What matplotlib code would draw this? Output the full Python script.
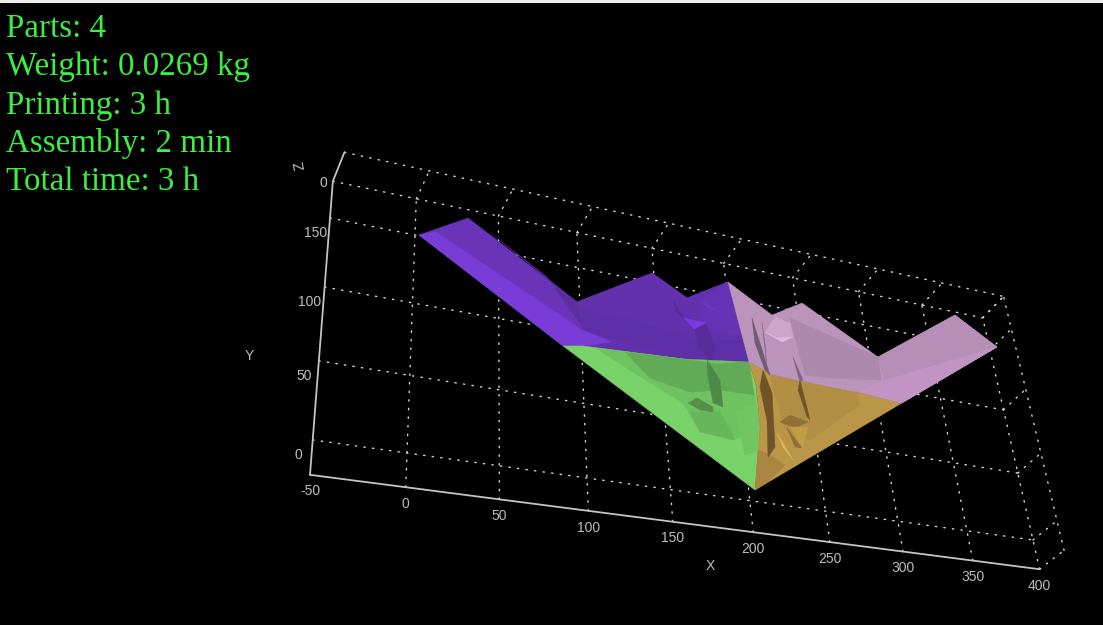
import numpy as np, matplotlib
matplotlib.use('Agg')
import matplotlib.pyplot as plt

# ---- summary text ----
summary_lines = ["Parts: 4", "Weight: 0.0269 kg", "Printing: 3 h", "Assembly: 2 min", "Total time: 3 h"]

# ---- axes ----
x_ticks = [-50, 0, 50, 100, 150, 200, 250, 300, 350, 400]
y_ticks = [0, 50, 100, 150]
z_ticks = [0]
x_lim = (-48.5, 400)
y_lim = (-21, 178)
z_lim = (0, 40)

# ---- surface facets, (x, y) on the model plane z = 0 ----
purple_body = [(2.3,150.6),(31.3,171.4),(98.3,123.1),(148.8,157.6),(171.4,143.0),(201.6,163.0),(210.1,101.4),(187.7,95.4),(165.0,94.6),(130.5,92.7),(100.9,91.0),(88.5,88.4)]
purple_centre = [(98.3,123.1),(148.8,157.6),(171.4,143.0),(201.6,163.0),(210.1,101.4),(165.0,94.6),(100.9,91.0)]
purple_edge = [(2.3,150.6),(12.2,155.5),(100.7,102.7),(119.3,97.8),(100.9,91.0),(88.5,88.4)]
purple_rear = [(44.8,163.2),(98.3,123.1),(101.4,105.0),(79.8,137.9)]
purple_band = [(100.6,117.6),(102.6,103.1),(163.1,94.9),(210.1,101.4),(209.1,118.2),(177.7,111.6),(138.3,116.9)]
purple_root = [(180.3,143.4),(201.6,163.0),(209.5,122.2),(178.3,119.4)]
purple_bump = [(168.1,126.5),(183.0,125.9),(174.3,119.3)]
purple_crease = [(161.6,139.2),(163.6,129.4),(170.6,124.0),(168.1,126.5)]
purple_shade = [(183.0,125.9),(187.5,108.3),(185.1,96.4),(177.0,103.8),(174.3,119.3)]
purple_glint = [(182.3,142.3),(191.6,138.0),(185.4,138.2)]

green_body = [(88.5,88.4),(100.9,91.0),(130.5,92.7),(165.0,94.6),(187.7,95.4),(210.1,101.4),(213.1,84.6),(212.5,53.4),(204.2,7.8)]
green_mid = [(108.4,91.1),(165.0,94.6),(210.1,101.4),(212.5,53.4),(193.2,40.8),(171.9,42.9),(162.5,61.8),(142.1,72.4)]
green_dark = [(127.3,92.0),(165.0,94.6),(187.7,95.4),(210.1,101.4),(210.9,76.7),(188.0,76.0),(167.7,70.7),(142.3,76.0)]
green_patch_a = [(166.6,56.1),(186.5,59.7),(194.5,41.1),(171.9,42.9)]
green_patch_b = [(196.7,63.0),(212.2,69.5),(209.9,36.5),(200.1,31.4)]
green_streak = [(181.2,97.1),(188.6,83.6),(188.8,63.7),(182.4,65.5),(180.7,84.3)]
green_blob = [(165.8,62.4),(172.0,67.2),(182.1,62.5),(181.8,58.8),(173.3,58.7)]

orange_body = [(210.1,101.4),(226.0,94.6),(249.8,93.9),(285.8,93.0),(318.8,90.6),(204.2,7.8),(212.5,53.4),(213.1,84.6)]
orange_upper = [(223.8,94.2),(249.8,93.9),(285.8,93.0),(286.4,83.1),(246.1,49.8),(229.5,54.2)]
orange_nose = [(209.3,36.4),(217.0,34.2),(226.4,28.6),(215.0,16.3),(204.2,7.8)]
orange_streak_a = [(219.3,97.1),(223.7,80.6),(221.1,40.5),(215.5,32.5),(217.8,59.5),(215.7,83.6)]
orange_streak_b = [(244.9,94.5),(248.1,64.9),(246.3,66.8),(242.5,86.4)]
orange_blob = [(226.7,59.6),(234.4,66.1),(246.5,63.1),(236.7,56.9)]
orange_glint = [(223.7,51.0),(232.3,33.1),(226.6,41.4)]
orange_facet_dark = [(231.1,56.0),(239.7,42.9),(234.9,42.8)]
orange_facet_light = [(233.3,57.1),(246.0,59.3),(240.4,43.0)]

pink_body = [(201.6,163.0),(230.8,142.8),(254.5,158.0),(306.5,124.9),(376.4,175.2),(406.7,153.9),(318.8,90.6),(285.8,93.0),(249.8,93.9),(226.0,94.6),(210.1,101.4)]
pink_inner = [(243.8,143.3),(306.5,124.9),(305.7,106.3),(267.2,100.4),(249.1,99.2)]
pink_outer = [(306.5,124.9),(376.4,175.2),(406.7,153.9),(308.8,106.9)]
pink_edge = [(406.7,153.9),(318.8,90.6),(288.0,93.5),(308.8,106.9)]
pink_bump = [(224.1,127.7),(235.5,122.2),(244.2,128.8),(243.3,139.1),(232.8,141.6)]
pink_bump_top = [(224.1,127.7),(235.5,122.2),(244.1,128.0),(233.0,124.9)]
pink_streak_a = [(215.9,137.1),(219.5,118.1),(223.8,94.2),(220.7,97.4),(215.9,117.3)]
pink_streak_b = [(242.1,111.8),(247.1,94.9),(244.7,92.9)]
pink_streak_c = [(222.8,135.4),(223.1,118.8),(222.4,100.0)]

facets = [
    (purple_body, '#6a34b8'), (purple_centre, '#6331ae'), (purple_edge, '#7a3cd6'),
    (purple_rear, '#5d2ea0'), (purple_band, '#5f2fa7'), (purple_root, '#6733b6'),
    (purple_crease, '#582c94'), (purple_shade, '#5a2c98'), (purple_bump, '#7a3ae0'),
    (purple_glint, '#7438cc'),
    (green_body, '#78d267'), (green_mid, '#6fc260'), (green_dark, '#62ab56'),
    (green_patch_a, '#69b55b'), (green_patch_b, '#72c662'), (green_streak, '#4e8a47'),
    (green_blob, '#54904a'),
    (orange_body, '#bb9647'), (orange_upper, '#b28e44'), (orange_nose, '#a98640'),
    (orange_streak_a, '#6e5428'), (orange_streak_b, '#6e5428'), (orange_blob, '#8e7135'),
    (orange_facet_dark, '#8d7034'), (orange_facet_light, '#c49c47'), (orange_glint, '#e2b752'),
    (pink_body, '#bb94bb'), (pink_inner, '#ad88ae'), (pink_outer, '#b68eb7'),
    (pink_edge, '#c294c4'), (pink_bump, '#cca4cd'), (pink_bump_top, '#dabbdd'),
    (pink_streak_a, '#705b71'), (pink_streak_b, '#7d657f'), (pink_streak_c, '#806a82'),
]

# ---- camera of the 3-D view ----
camera = np.array([
    [843.5/400, 51.3/150, 0.12, 407.0],
    [200.7/400, -193.5/150, -0.8825, 453.0],
    [0.2106/400, 0.1044/150, -0.000575, 1.0],
])

def project(x, y, z=0):
    x, y, z = np.broadcast_arrays(np.asarray(x, float), np.asarray(y, float), np.asarray(z, float))
    h = camera @ np.vstack([x.ravel(), y.ravel(), z.ravel(), np.ones(x.size)])
    return h[0] / h[2], h[1] / h[2]

fig = plt.figure(figsize=(11.03, 6.25), dpi=100, facecolor='black')
ax = fig.add_axes([0, 0, 1, 1], facecolor='black')
ax.set_xlim(0, 1103)
ax.set_ylim(625, 0)
ax.axis('off')
ax.axhspan(0, 3, color='#ececec', lw=0)

GRID = dict(color='#d8d8d8', lw=1.0, ls=(0, (1, 5.2)), zorder=1, dash_capstyle='round')
AXIS = dict(color='#c4c4c4', lw=1.3, zorder=2, solid_capstyle='round')
LABEL = dict(color='#bdbdbd', fontsize=10, family='Liberation Sans', ha='center', va='center', zorder=5)

def seg(a, b, **kw):
    px, py = project([a[0], b[0]], [a[1], b[1]], [a[2], b[2]])
    ax.plot(px, py, **kw)

x0, x1 = x_lim; y0, y1 = y_lim; z0, z1 = z_lim
for xv in x_ticks[1:]:
    seg((xv, y0, z0), (xv, y1, z0), **GRID)
    seg((xv, y1, z0), (xv, y1, z1), **GRID)
for yv in y_ticks + [y1]:
    seg((x0, yv, z0), (x1, yv, z0), **GRID)
for yv in y_ticks + [y0, y1]:
    seg((x1, yv, z0), (x1, yv, z1), **GRID)
seg((x0, y1, z1), (x1, y1, z1), **GRID)
seg((x1, y0, z1), (x1, y1, z1), **GRID)

seg((x0, y0, z0), (x1, y0, z0), **AXIS)
seg((x0, y0, z0), (x0, y1, z0), **AXIS)
seg((x0, y1, z0), (x0, y1, z1), **AXIS)

for pts, colour in facets:
    a = np.array(pts)
    px, py = project(a[:, 0], a[:, 1])
    ax.fill(px, py, facecolor=colour, edgecolor=colour, lw=0.3, zorder=3)

for xv in x_ticks:
    px, py = project(max(xv, x0), y0)
    ax.annotate(str(xv), (px[0], py[0]), xytext=(0, -12), textcoords='offset points', **LABEL)
for yv in y_ticks:
    px, py = project(x0, yv)
    ax.annotate(str(yv), (px[0], py[0]), xytext=(-10.5, -11), textcoords='offset points', **LABEL)
for zv in z_ticks:
    px, py = project(x0, y1, zv)
    ax.annotate(str(zv), (px[0], py[0]), xytext=(-7, -1), textcoords='offset points', **LABEL)

ax.text(710, 566, 'X', **LABEL)
ax.text(249, 356, 'Y', **LABEL)
ax.text(300, 166, 'Z', rotation=100, **LABEL)

for line, base in zip(summary_lines, [37, 75.5, 114, 152, 190]):
    ax.text(6, base, line, color='#3bf040', fontsize=23.8, family='Liberation Serif', va='baseline', ha='left', zorder=6)

fig.savefig('out.png', dpi=100, facecolor='black')
